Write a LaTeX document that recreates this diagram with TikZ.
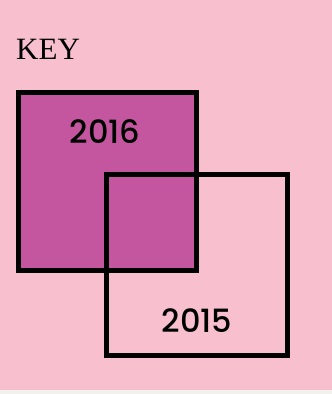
\documentclass[tikz,border=0pt]{standalone}
\usepackage{fontspec}
\newfontfamily\yearfont{Poppins Medium}
\newfontfamily\keyfont{Liberation Serif}
\definecolor{bgpink}{HTML}{F8BFCE}
\definecolor{keypurple}{HTML}{C4569F}
\definecolor{stripgrey}{HTML}{F2F1EE}
\begin{document}
\begin{tikzpicture}[
		x=1pt, y=-1pt,
		box/.style   = {draw=black, line width=5pt, rectangle, inner sep=0pt},
		yr/.style    = {font=\yearfont\fontsize{32}{38}\selectfont, anchor=base, inner sep=0pt},
		title/.style = {font=\keyfont\fontsize{31}{37}\selectfont, anchor=base west, inner sep=0pt}
		]
		% background
		\fill[bgpink] (0,0) rectangle (332,390);
		\fill[stripgrey] (0,390) rectangle (332,394);
		\useasboundingbox (0,0) rectangle (332,394);
		
		\node[title] (key) at (16,59) {KEY};
		
		% the two years
		\node[box, fill=keypurple, minimum width=178pt, minimum height=178pt] (b16) at (107.5,181.5) {};
		\node[box, minimum width=181pt, minimum height=181pt] (b15) at (197,265) {};
		
		\node[yr] (t16) at (105,143) {2016};
		\node[yr] (t15) at (197,332) {2015};
	\end{tikzpicture}
\end{document}
